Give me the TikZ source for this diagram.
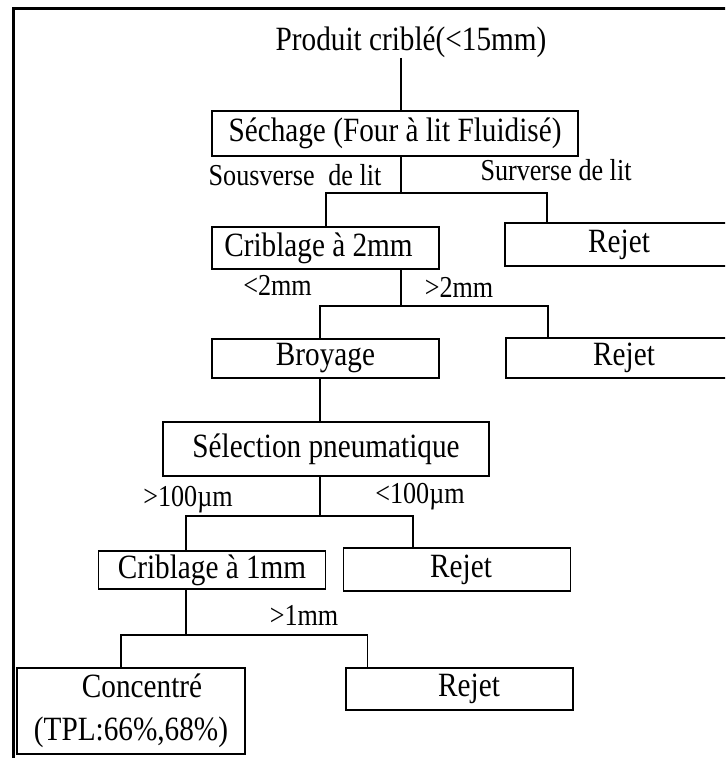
\documentclass[tikz,border=0pt]{standalone}
\usepackage{fontspec}
\setmainfont[FakeStretch=0.86]{Liberation Serif}
\newcommand\boxfont{\fontsize{17}{21.5}\selectfont}
\newcommand\labfont{\fontsize{15.2}{17}\selectfont}
\begin{document}
\begin{tikzpicture}[x=0.5pt,y=-0.5pt,
  box/.style={draw, line width=0.8pt, inner sep=0pt, font=\boxfont, align=center},
  lab/.style={inner sep=0pt, font=\labfont},
  conn/.style={line width=0.75pt},
  frame/.style={line width=1.75pt, line join=miter}]
\useasboundingbox (0,0) rectangle (725,758);
\clip (0,0) rectangle (725,758);
\fill[white] (0,0) rectangle (725,758);
\draw[frame] (13.5,775) -- (13.5,8.5) -- (745,8.5);

% nodes
\node[inner sep=0pt, font=\boxfont] (prod) at (411,42) {Produit criblé(<15mm)};
\node[box, minimum width=183pt, minimum height=22.5pt] (sech) at (395,133.5) {Séchage (Four à lit Fluidisé)};
\node[box, minimum width=113.5pt, minimum height=21pt] (crib2) at (325.5,248) {Criblage à 2mm\hspace{7pt}};
\node[box, minimum width=114pt, minimum height=21.5pt] (rej1) at (619,244.5) {Rejet};
\node[box, minimum width=113.5pt, minimum height=19.5pt] (broy) at (325.5,358.5) {Broyage};
\node[box, minimum width=118pt, minimum height=20pt] (rej2) at (624,358) {Rejet};
\node[box, minimum width=163pt, minimum height=27pt] (sel) at (326,449) {Sélection pneumatique};
\node[box, minimum width=113.5pt, minimum height=19pt] (crib1) at (212,570) {Criblage à 1mm};
\node[box, minimum width=113.5pt, minimum height=21.5pt] (rej3) at (457,569.5) {\hspace*{4pt}Rejet};
\node[box, minimum width=114pt, minimum height=43pt] (conc) at (131,711) {\hspace*{11pt}Concentré\\(TPL:66\%,68\%)};
\node[box, minimum width=113.5pt, minimum height=21pt] (rej4) at (459.5,689) {\hspace*{9.5pt}Rejet};

% labels
\node[lab] (lsous) at (295,175) {Sousverse\hspace{0.45em}de lit};
\node[lab] (lsur) at (556,170) {Surverse de lit};
\node[lab] (linf2) at (277.5,285) {<2mm};
\node[lab] (lsup2) at (459,287) {>2mm};
\node[lab] (lsup100) at (188,500) {>100µm};
\node[lab] (linf100) at (420,497) {<100µm};
\node[lab] (lsup1) at (304,615) {>1mm};

% junctions
\coordinate (j1) at (401,193); \coordinate (l1) at (326,193); \coordinate (r1) at (547,193);
\coordinate (j2) at (401,306); \coordinate (l2) at (320,306); \coordinate (r2) at (548,306);
\coordinate (j3) at (320,516); \coordinate (l3) at (186,516); \coordinate (r3) at (413,516);
\coordinate (j4) at (186,635); \coordinate (l4) at (121,635); \coordinate (r4) at (367.5,635);

% connectors
\draw[conn] (prod.south -| j1) -- (sech.north -| j1);
\draw[conn] (sech.south -| j1) -- (j1);
\draw[conn] (crib2.north -| l1) -- (l1) -- (r1) -- (rej1.north -| r1);
\draw[conn] (crib2.south -| j2) -- (j2);
\draw[conn] (broy.north -| l2) -- (l2) -- (r2) -- (rej2.north -| r2);
\draw[conn] (broy.south -| j3) -- (sel.north -| j3);
\draw[conn] (sel.south -| j3) -- (j3);
\draw[conn] (crib1.north -| l3) -- (l3) -- (r3) -- (rej3.north -| r3);
\draw[conn] (crib1.south -| j4) -- (j4);
\draw[conn] (conc.north -| l4) -- (l4) -- (r4) -- (rej4.north -| r4);
\end{tikzpicture}
\end{document}
